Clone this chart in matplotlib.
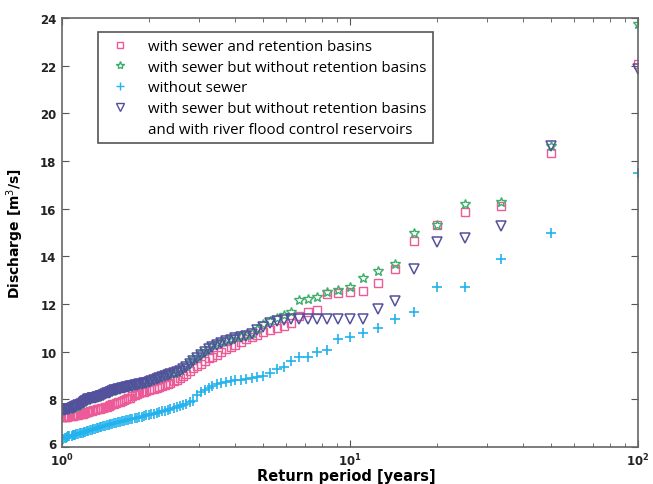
import matplotlib
matplotlib.use("Agg")
import matplotlib.pyplot as plt
import matplotlib.transforms as mtransforms
from matplotlib.lines import Line2D

# return period [years], one value per rank
return_period = [
    100, 50, 33.33, 25, 20, 16.67, 14.29, 12.5, 11.11, 10,
    9.09, 8.33, 7.69, 7.14, 6.67, 6.25, 5.88, 5.56, 5.26, 5,
    4.76, 4.55, 4.35, 4.17, 4, 3.85, 3.7, 3.57, 3.45, 3.33,
    3.23, 3.13, 3.03, 2.94, 2.86, 2.78, 2.7, 2.63, 2.56, 2.5,
    2.44, 2.38, 2.33, 2.27, 2.22, 2.17, 2.13, 2.08, 2.04, 2,
    1.96, 1.92, 1.89, 1.85, 1.82, 1.79, 1.75, 1.72, 1.69, 1.67,
    1.64, 1.61, 1.59, 1.56, 1.54, 1.52, 1.49, 1.47, 1.45, 1.43,
    1.41, 1.39, 1.37, 1.35, 1.33, 1.32, 1.3, 1.28, 1.27, 1.25,
    1.23, 1.22, 1.2, 1.19, 1.18, 1.16, 1.15, 1.14, 1.12, 1.11,
    1.1, 1.09, 1.08, 1.06, 1.05, 1.04, 1.03, 1.02, 1.01,
]

sewer_basins = [
    22.07, 18.34, 16.11, 15.86, 15.32, 14.66, 13.47, 12.89, 12.56, 12.52,
    12.48, 12.42, 11.77, 11.65, 11.48, 11.22, 11.10, 11.00, 10.93, 10.83,
    10.70, 10.62, 10.52, 10.42, 10.30, 10.20, 10.10, 10.00, 9.88, 9.80,
    9.72, 9.60, 9.50, 9.40, 9.30, 9.20, 9.08, 8.98, 8.90, 8.83,
    8.76, 8.70, 8.65, 8.60, 8.56, 8.52, 8.48, 8.45, 8.42, 8.39,
    8.36, 8.33, 8.30, 8.26, 8.22, 8.18, 8.13, 8.08, 8.04, 8.00,
    7.97, 7.94, 7.91, 7.88, 7.85, 7.82, 7.79, 7.76, 7.73, 7.70,
    7.68, 7.66, 7.64, 7.62, 7.60, 7.58, 7.56, 7.54, 7.52, 7.50,
    7.48, 7.46, 7.44, 7.42, 7.40, 7.38, 7.37, 7.36, 7.35, 7.34,
    7.33, 7.32, 7.31, 7.30, 7.29, 7.28, 7.27, 7.26, 7.25,
]

sewer_no_basins = [
    23.75, 18.62, 16.30, 16.18, 15.32, 15.00, 13.68, 13.40, 13.08, 12.72,
    12.58, 12.50, 12.30, 12.20, 12.17, 11.65, 11.55, 11.40, 11.30, 11.18,
    10.95, 10.80, 10.72, 10.66, 10.60, 10.55, 10.48, 10.42, 10.35, 10.27,
    10.17, 10.05, 9.93, 9.80, 9.68, 9.55, 9.40, 9.30, 9.22, 9.17,
    9.13, 9.09, 9.05, 9.01, 8.98, 8.94, 8.90, 8.86, 8.82, 8.78,
    8.74, 8.71, 8.68, 8.66, 8.64, 8.62, 8.60, 8.58, 8.56, 8.54,
    8.52, 8.50, 8.48, 8.46, 8.43, 8.40, 8.37, 8.34, 8.31, 8.28,
    8.25, 8.22, 8.19, 8.16, 8.14, 8.12, 8.10, 8.08, 8.06, 8.04,
    8.02, 7.99, 7.96, 7.92, 7.88, 7.84, 7.80, 7.77, 7.74, 7.72,
    7.70, 7.68, 7.66, 7.64, 7.63, 7.62, 7.60, 7.58, 7.56,
]

no_sewer = [
    17.50, 15.00, 13.90, 12.71, 12.71, 11.66, 11.37, 10.99, 10.78, 10.60,
    10.55, 10.06, 9.97, 9.80, 9.78, 9.60, 9.36, 9.27, 9.10, 8.98,
    8.94, 8.90, 8.87, 8.83, 8.80, 8.77, 8.74, 8.70, 8.65, 8.58,
    8.50, 8.40, 8.30, 8.20, 7.93, 7.88, 7.83, 7.78, 7.73, 7.69,
    7.65, 7.61, 7.57, 7.53, 7.50, 7.47, 7.44, 7.41, 7.38, 7.36,
    7.33, 7.31, 7.28, 7.26, 7.23, 7.21, 7.19, 7.17, 7.14, 7.12,
    7.10, 7.08, 7.06, 7.04, 7.02, 7.00, 6.98, 6.96, 6.94, 6.92,
    6.89, 6.87, 6.85, 6.83, 6.81, 6.79, 6.77, 6.75, 6.73, 6.71,
    6.69, 6.67, 6.65, 6.63, 6.61, 6.59, 6.58, 6.56, 6.55, 6.53,
    6.52, 6.50, 6.48, 6.47, 6.45, 6.42, 6.40, 6.38, 6.35,
]

sewer_reservoirs = [
    21.86, 18.63, 15.27, 14.77, 14.62, 13.47, 12.14, 11.79, 11.37, 11.37,
    11.37, 11.37, 11.37, 11.37, 11.37, 11.37, 11.34, 11.28, 11.20, 11.05,
    10.90, 10.75, 10.68, 10.62, 10.56, 10.51, 10.45, 10.38, 10.30, 10.22,
    10.12, 10.00, 9.88, 9.75, 9.62, 9.50, 9.35, 9.26, 9.19, 9.14,
    9.10, 9.06, 9.02, 8.98, 8.95, 8.91, 8.87, 8.83, 8.79, 8.75,
    8.71, 8.68, 8.65, 8.63, 8.61, 8.59, 8.57, 8.55, 8.53, 8.51,
    8.49, 8.47, 8.45, 8.43, 8.41, 8.38, 8.35, 8.32, 8.29, 8.26,
    8.22, 8.19, 8.16, 8.13, 8.11, 8.09, 8.07, 8.05, 8.04, 8.02,
    8.00, 7.97, 7.94, 7.90, 7.86, 7.82, 7.78, 7.75, 7.72, 7.70,
    7.68, 7.66, 7.64, 7.62, 7.61, 7.60, 7.58, 7.57, 7.55,
]

labels = [
    "with sewer and retention basins",
    "with sewer but without retention basins",
    "without sewer",
    "with sewer but without retention basins",
    "and with river flood control reservoirs",
]

c_pink = "#ec5a98"
c_green = "#3dae6a"
c_cyan = "#22b2ee"
c_purple = "#54509e"

fig = plt.figure(figsize=(6.53, 4.85), dpi=100)
ax = fig.add_axes([0.095, 0.076, 0.882, 0.885])

ax.plot(return_period, sewer_basins, ls="none", marker="s", ms=6,
        mfc="none", mec=c_pink, mew=1.0)
ax.plot(return_period, sewer_no_basins, ls="none", marker="*", ms=7,
        mfc="none", mec=c_green, mew=1.0)
ax.plot(return_period, no_sewer, ls="none", marker="+", ms=7,
        color=c_cyan, mew=1.2)
ax.plot(return_period, sewer_reservoirs, ls="none", marker="v", ms=6.5,
        mfc="none", mec=c_purple, mew=1.1)

ax.set_xscale("log")
ax.set_xlim(1, 100)
ax.set_ylim(6, 24)
ax.set_yticks(range(6, 25, 2))
ax.tick_params(which="both", direction="in", top=True, right=True,
               colors="#555555", labelcolor="#222222", labelsize=8.5)
ax.tick_params(which="major", length=5)
ax.tick_params(which="minor", length=3)
ax.tick_params(axis="x", pad=3)
ax.tick_params(axis="y", pad=4)
for s in ax.spines.values():
    s.set_color("#666666")
    s.set_linewidth(1.2)
for t in ax.get_yticklabels() + ax.get_xticklabels():
    t.set_fontweight("bold")

# lift the lowest y label a little so it clears the 10^0 label
fig.canvas.draw()
low = ax.get_yticklabels()[0]
low.set_transform(low.get_transform() +
                  mtransforms.ScaledTranslation(0, 3 / 72, fig.dpi_scale_trans))

fig.text(0.531, 0.018, "Return period [years]", fontsize=10.5,
         fontweight="bold", ha="center", va="center")
ax.set_ylabel("Discharge [m$^3$/s]", fontsize=10, fontweight="bold",
              labelpad=10)

handles = [
    Line2D([], [], ls="none", marker="s", ms=5, mfc="none", mec=c_pink),
    Line2D([], [], ls="none", marker="*", ms=6, mfc="none", mec=c_green),
    Line2D([], [], ls="none", marker="+", ms=6, color=c_cyan),
    Line2D([], [], ls="none", marker="v", ms=6, mfc="none", mec=c_purple),
    Line2D([], [], ls="none"),
]
leg = ax.legend(handles, labels, loc="upper left",
                bbox_to_anchor=(0.0625, 0.967), borderaxespad=0,
                fancybox=False, edgecolor="#555555", framealpha=1,
                prop={"family": "Open Sans", "size": 10.8},
                handletextpad=0.9, labelspacing=0.38, borderpad=0.45)
leg.get_frame().set_linewidth(1.2)

fig.savefig("out.png", dpi=100)
